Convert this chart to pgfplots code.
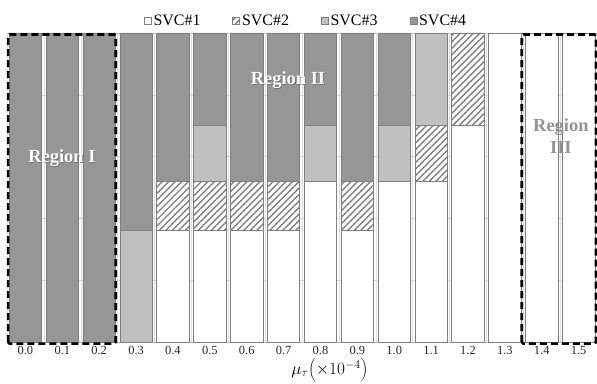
\documentclass[border=0pt]{standalone}
\usepackage{pgfplots}
\pgfplotsset{compat=1.18}
\usepackage{fontspec}
\setmainfont{Liberation Serif}
\usetikzlibrary{patterns.meta}
\definecolor{darkg}{HTML}{969696}
\definecolor{lightg}{HTML}{C0C0C0}
\definecolor{edgeg}{HTML}{7F7F7F}
\begin{document}
\begin{tikzpicture}[x=1bp,y=1bp]
\useasboundingbox (-7,-41) rectangle (590,342);
\begin{axis}[
  at={(0,0)}, anchor=south west,
  scale only axis, width=590bp, height=309bp,
  ybar stacked, bar width=0.88,
  xmin=-0.5, xmax=15.5, ymin=0, ymax=1,
  xtick={0,...,15},
  xticklabels={0.0,0.1,0.2,0.3,0.4,0.5,0.6,0.7,0.8,0.9,1.0,1.1,1.2,1.3,1.4,1.5},
  major x tick style={draw=none},
  extra x ticks={-0.5,0.5,1.5,2.5,3.5,4.5,5.5,6.5,7.5,8.5,9.5,10.5,11.5,12.5,13.5,14.5,15.5},
  extra x tick labels={},
  extra x tick style={major tick length=3bp, tick align=outside, tick style={draw=gray!60}, xmajorgrids, grid style={gray!25}},
  ytick={0,0.2,0.4,0.6,0.8,1}, yticklabels={},
  major y tick style={draw=none},
  ymajorgrids, grid style={gray!35},
  axis line style={gray!60},
  tick label style={font=\fontsize{12.5}{14}\selectfont, text=black!85},
  xticklabel style={yshift=-1bp},
  /pgf/number format/assume math mode=true,
  xlabel={$\mu_\tau\biggl(\times10^{-4}\biggr)$},
  xlabel style={at={(axis description cs:0.547,0)}, anchor=center, yshift=-28bp, font=\fontsize{17}{19}\selectfont},
  legend columns=4,
  legend style={at={(0.5,1)}, anchor=south, yshift=3bp, xshift=4bp, draw=none, fill=none,
    font=\fontsize{16}{18}\selectfont, inner sep=1bp,
    /tikz/every even column/.append style={column sep=30bp}},
  legend image code/.code={\draw[#1, draw=gray] (0bp,-3.5bp) rectangle (7bp,3.5bp);},
  legend cell align=left,
]
\addplot[fill=white, draw=edgeg, line width=0.6bp] coordinates {
 (0,0) (1,0) (2,0) (3,0) (4,0.36) (5,0.36) (6,0.36) (7,0.36) (8,0.52) (9,0.36) (10,0.52) (11,0.52) (12,0.70) (13,1) (14,1) (15,1)};
\addplot[fill=white, postaction={pattern={Lines[angle=45, distance=4.6bp, line width=1.4bp]}, pattern color=gray}, draw=edgeg, line width=0.6bp] coordinates {
 (0,0) (1,0) (2,0) (3,0) (4,0.16) (5,0.16) (6,0.16) (7,0.16) (8,0) (9,0.16) (10,0) (11,0.18) (12,0.30) (13,0) (14,0) (15,0)};
\addplot[fill=lightg, draw=edgeg, line width=0.6bp] coordinates {
 (0,0) (1,0) (2,0) (3,0.36) (4,0) (5,0.18) (6,0) (7,0) (8,0.18) (9,0) (10,0.18) (11,0.30) (12,0) (13,0) (14,0) (15,0)};
\addplot[fill=darkg, draw=edgeg, line width=0.6bp] coordinates {
 (0,1) (1,1) (2,1) (3,0.64) (4,0.48) (5,0.30) (6,0.48) (7,0.48) (8,0.30) (9,0.48) (10,0.30) (11,0) (12,0) (13,0) (14,0) (15,0)};
\legend{SVC\#1,SVC\#2,SVC\#3,SVC\#4}
\coordinate (b1sw) at (axis cs:-0.47,-0.005);
\coordinate (b1ne) at (axis cs:2.45,0.995);
\coordinate (b2sw) at (axis cs:13.46,-0.005);
\coordinate (b2ne) at (axis cs:15.47,0.995);
\coordinate (r1) at (axis cs:0.99,0.595);
\coordinate (r2) at (axis cs:7.12,0.848);
\coordinate (r3) at (axis cs:14.52,0.667);
\end{axis}
\draw[black, line width=2.6bp, dash pattern=on 7bp off 4bp, rounded corners=1.5bp] (b1sw) rectangle (b1ne);
\draw[black, line width=2.6bp, dash pattern=on 7bp off 4bp, rounded corners=1.5bp] (b2sw) rectangle (b2ne);
\node[text=black!55, font=\bfseries\fontsize{18.5}{20}\selectfont] at ([xshift=0.8bp,yshift=-0.8bp]r1) {Region I};
\node[text=white, font=\bfseries\fontsize{18.5}{20}\selectfont] at (r1) {Region I};
\node[text=black!55, font=\bfseries\fontsize{18.5}{20}\selectfont] at ([xshift=0.8bp,yshift=-0.8bp]r2) {Region II};
\node[text=white, font=\bfseries\fontsize{18.5}{20}\selectfont] at (r2) {Region II};
\node[text=gray!85, font=\bfseries\fontsize{18.5}{22}\selectfont, align=center] at (r3) {Region\\III};
\end{tikzpicture}
\end{document}
